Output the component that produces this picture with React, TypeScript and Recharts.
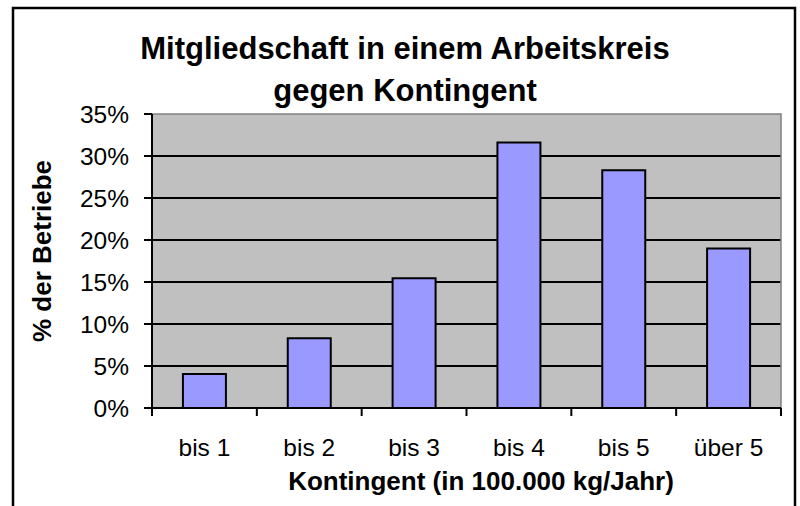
import React from 'react';
import { BarChart, Bar, XAxis, YAxis, CartesianGrid, ReferenceArea } from 'recharts';

const CATEGORIES = ['bis 1', 'bis 2', 'bis 3', 'bis 4', 'bis 5', 'über 5'];
const SHARE = [4.05, 8.3, 15.45, 31.6, 28.3, 19.0];
const Y_TICKS = [0, 5, 10, 15, 20, 25, 30, 35];
const GRID_VALUES = [5, 10, 15, 20, 25, 30];

const TITLE = ['Mitgliedschaft in einem Arbeitskreis', 'gegen Kontingent'];
const X_TITLE = 'Kontingent (in 100.000 kg/Jahr)';
const Y_TITLE = '% der Betriebe';

const FONT = '"Liberation Sans", Arial, sans-serif';

const data = CATEGORIES.map((c, i) => ({ label: c, value: SHARE[i] }));

// label at the band centre, tick marks on the band edges (Excel style)
function CategoryTick(props: any) {
  const { x, y, payload, index } = props;
  const half = payload?.offset ?? 629 / 12;
  const last = index === CATEGORIES.length - 1;
  return (
    <g>
      <line x1={x - half} x2={x - half} y1={y} y2={y + 8} stroke="#000" strokeWidth={2} />
      {last && <line x1={x + half} x2={x + half} y1={y} y2={y + 8} stroke="#000" strokeWidth={2} />}
      <text x={x} y={y + 48} textAnchor="middle" fontSize={24.5} fontFamily={FONT} fill="#000">
        {payload.value}
      </text>
    </g>
  );
}

export default function App() {
  return (
    <div style={{ position: 'absolute', left: 0, top: 0, width: 800, height: 506, background: '#fff' }}>
      <BarChart
        width={800}
        height={506}
        data={data}
        margin={{ top: 114, right: 19, bottom: 38, left: 92 }}
        barCategoryGap="29.5%"
      >
        <CartesianGrid
          vertical={false}
          fill="#C0C0C0"
          fillOpacity={1}
          stroke="#000"
          strokeWidth={2}
          horizontalValues={GRID_VALUES}
        />
        <ReferenceArea y1={0} y2={35} fill="none" stroke="#808080" strokeWidth={1.5} ifOverflow="visible" />
        <XAxis
          dataKey="label"
          height={60}
          axisLine={{ stroke: '#000', strokeWidth: 2 }}
          tickLine={false}
          tickSize={0}
          tickMargin={0}
          tick={<CategoryTick />}
          interval={0}
        />
        <YAxis
          width={60}
          domain={[0, 35]}
          ticks={Y_TICKS}
          interval={0}
          tickFormatter={(v: number) => `${v}%`}
          axisLine={{ stroke: '#000', strokeWidth: 2 }}
          tickLine={{ stroke: '#000', strokeWidth: 2 }}
          tickSize={8}
          tickMargin={15}
          tick={{ fontSize: 24.5, fontFamily: FONT, fill: '#000' }}
        />
        <Bar dataKey="value" fill="#9999FF" stroke="#000" strokeWidth={2} isAnimationActive={false} />
      </BarChart>
      <svg
        width={800}
        height={506}
        style={{ position: 'absolute', left: 0, top: 0, pointerEvents: 'none' }}
      >
        <rect x={13} y={8} width={782} height={530} fill="none" stroke="#000" strokeWidth={2.5} />
        <text x={405} y={59} textAnchor="middle" fontSize={31} fontWeight="bold" fontFamily={FONT}>
          {TITLE[0]}
        </text>
        <text x={405} y={101} textAnchor="middle" fontSize={31} fontWeight="bold" fontFamily={FONT}>
          {TITLE[1]}
        </text>
        <text x={481} y={490} textAnchor="middle" fontSize={26} fontWeight="bold" fontFamily={FONT}>
          {X_TITLE}
        </text>
        <text
          x={51}
          y={251}
          textAnchor="middle"
          fontSize={26}
          fontWeight="bold"
          fontFamily={FONT}
          transform="rotate(-90, 51, 251)"
        >
          {Y_TITLE}
        </text>
      </svg>
    </div>
  );
}
